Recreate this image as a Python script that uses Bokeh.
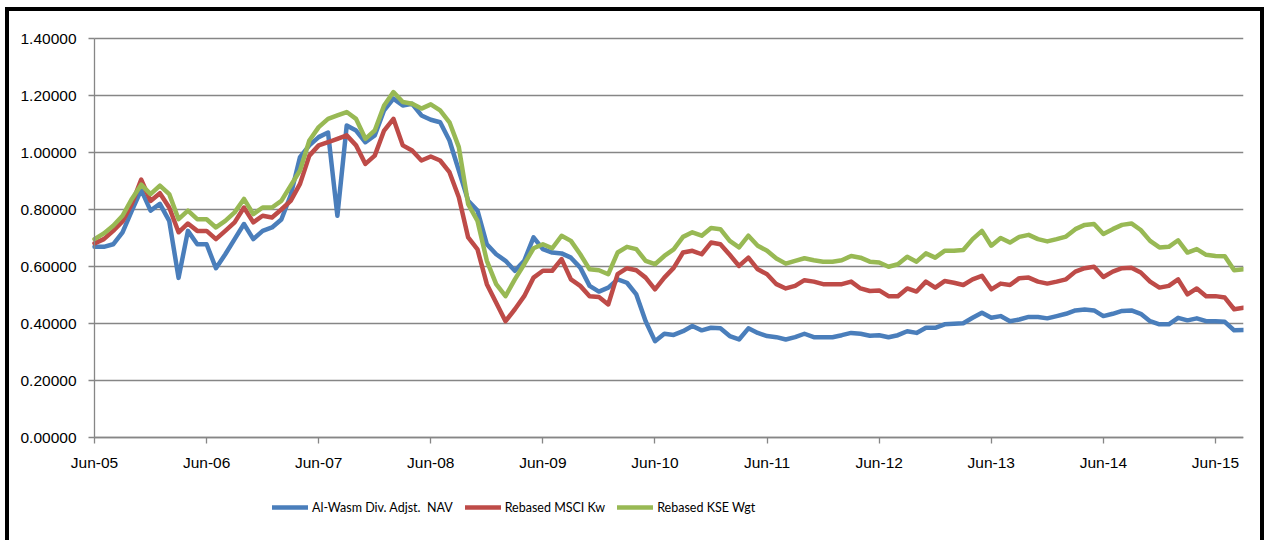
from bokeh.plotting import figure
from bokeh.models import ColumnDataSource, Legend, LegendItem, FixedTicker, NumeralTickFormatter, Range1d
from bokeh.embed import file_html
from bokeh.resources import INLINE

# Monthly observations, Jun-05 .. Sep-15
start_year, start_month = 2005, 6
n_points = 124
mon_names = ["Jan", "Feb", "Mar", "Apr", "May", "Jun", "Jul", "Aug", "Sep", "Oct", "Nov", "Dec"]
month_labels = []
for k in range(n_points):
    m = (start_month - 1 + k) % 12
    y = start_year + (start_month - 1 + k) // 12
    month_labels.append(f"{mon_names[m]}-{y % 100:02d}")

alwasm_nav = [0.669, 0.669, 0.678, 0.720, 0.796, 0.869, 0.796, 0.820, 0.760, 0.560,
              0.725, 0.678, 0.678, 0.594, 0.643, 0.696, 0.749, 0.696, 0.725, 0.737,
              0.765, 0.850, 0.984, 1.025, 1.054, 1.070, 0.778, 1.095, 1.077, 1.036,
              1.060, 1.148, 1.189, 1.165, 1.171, 1.130, 1.115, 1.106, 1.042, 0.937,
              0.831, 0.796, 0.678, 0.643, 0.620, 0.585, 0.620, 0.702, 0.661, 0.649,
              0.646, 0.631, 0.596, 0.532, 0.512, 0.526, 0.555, 0.543, 0.502, 0.408,
              0.338, 0.364, 0.360, 0.373, 0.391, 0.376, 0.385, 0.383, 0.356, 0.344,
              0.383, 0.367, 0.356, 0.352, 0.344, 0.352, 0.364, 0.352, 0.352, 0.352,
              0.359, 0.367, 0.364, 0.357, 0.359, 0.352, 0.359, 0.373, 0.367, 0.385,
              0.385, 0.397, 0.399, 0.401, 0.420, 0.438, 0.420, 0.426, 0.408, 0.414,
              0.423, 0.423, 0.418, 0.426, 0.434, 0.446, 0.449, 0.446, 0.426, 0.434,
              0.444, 0.446, 0.434, 0.408, 0.397, 0.397, 0.420, 0.411, 0.418, 0.408,
              0.408, 0.406, 0.376, 0.377]

msci_kw = [0.681, 0.696, 0.725, 0.758, 0.820, 0.905, 0.830, 0.857, 0.807, 0.720,
           0.751, 0.725, 0.725, 0.696, 0.725, 0.755, 0.807, 0.755, 0.778, 0.772,
           0.800, 0.830, 0.890, 0.989, 1.025, 1.036, 1.048, 1.060, 1.025, 0.960,
           0.989, 1.077, 1.118, 1.025, 1.007, 0.972, 0.986, 0.972, 0.931, 0.843,
           0.702, 0.660, 0.538, 0.473, 0.408, 0.450, 0.496, 0.561, 0.585, 0.585,
           0.626, 0.555, 0.532, 0.496, 0.493, 0.467, 0.573, 0.594, 0.587, 0.561,
           0.520, 0.561, 0.595, 0.649, 0.655, 0.643, 0.684, 0.678, 0.641, 0.602,
           0.631, 0.590, 0.573, 0.538, 0.523, 0.532, 0.552, 0.547, 0.538, 0.538,
           0.538, 0.547, 0.523, 0.514, 0.516, 0.496, 0.496, 0.523, 0.512, 0.547,
           0.526, 0.549, 0.543, 0.535, 0.555, 0.567, 0.520, 0.540, 0.535, 0.559,
           0.561, 0.547, 0.540, 0.547, 0.555, 0.582, 0.594, 0.599, 0.563, 0.582,
           0.594, 0.596, 0.579, 0.547, 0.526, 0.532, 0.555, 0.502, 0.523, 0.496,
           0.496, 0.491, 0.450, 0.455]

kse_wgt = [0.696, 0.716, 0.743, 0.778, 0.837, 0.887, 0.854, 0.884, 0.854, 0.766,
           0.796, 0.766, 0.766, 0.737, 0.760, 0.790, 0.837, 0.784, 0.807, 0.807,
           0.830, 0.884, 0.937, 1.042, 1.089, 1.118, 1.130, 1.142, 1.118, 1.048,
           1.077, 1.165, 1.212, 1.177, 1.171, 1.154, 1.169, 1.148, 1.106, 1.019,
           0.819, 0.760, 0.620, 0.538, 0.496, 0.555, 0.608, 0.664, 0.678, 0.664,
           0.708, 0.690, 0.643, 0.590, 0.587, 0.573, 0.649, 0.669, 0.661, 0.620,
           0.608, 0.637, 0.660, 0.704, 0.720, 0.708, 0.735, 0.731, 0.690, 0.667,
           0.708, 0.673, 0.655, 0.628, 0.610, 0.620, 0.629, 0.622, 0.617, 0.617,
           0.622, 0.637, 0.631, 0.617, 0.614, 0.599, 0.608, 0.634, 0.617, 0.646,
           0.631, 0.655, 0.655, 0.658, 0.696, 0.725, 0.673, 0.700, 0.684, 0.704,
           0.711, 0.696, 0.688, 0.696, 0.705, 0.731, 0.746, 0.749, 0.714, 0.731,
           0.746, 0.751, 0.728, 0.690, 0.667, 0.669, 0.692, 0.649, 0.661, 0.641,
           0.637, 0.636, 0.587, 0.590]

series_names = ["Al-Wasm Div. Adjst.  NAV", "Rebased MSCI Kw", "Rebased KSE Wgt"]
series_colors = ["#4A7EBB", "#BE4B48", "#98B954"]
y_ticks = [0.0, 0.2, 0.4, 0.6, 0.8, 1.0, 1.2, 1.4]
y_top = 1.4

# layout (canvas pixels)
W, H = 1251, 529
plot_left_px, plot_right_px = 85, 1234      # x=0 and x=last month
top_px, zero_px = 27, 426                   # y=1.4 and y=0
px_per_unit = (zero_px - top_px) / y_top
y_bottom = -(H - zero_px) / px_per_unit
y_range_top = y_top + top_px / px_per_unit
px_per_month = (plot_right_px - plot_left_px) / (n_points - 1)
x_start = -plot_left_px / px_per_month

x_idx = list(range(n_points))
source = ColumnDataSource(dict(x=x_idx, label=month_labels, nav=alwasm_nav, msci=msci_kw, kse=kse_wgt))

p = figure(width=W, height=H, output_backend="svg", toolbar_location=None,
           x_range=Range1d(x_start, n_points - 1), y_range=Range1d(y_bottom, y_range_top),
           min_border_left=0, min_border_right=W - plot_right_px, min_border_top=0,
           min_border_bottom=0)
p.styles = {"margin-left": "9px", "margin-top": "11px",
            "box-shadow": "-4px 0 0 0 #000, 4px 0 0 0 #000, 0 -4px 0 0 #000, "
                          "-4px -4px 0 0 #000, 4px -4px 0 0 #000"}
p.outline_line_color = None
p.background_fill_color = "white"
p.border_fill_color = "white"

# horizontal gridlines across the plot area only
grid_src = ColumnDataSource(dict(y=y_ticks, x0=[0] * len(y_ticks), x1=[n_points - 1] * len(y_ticks)))
p.segment(x0="x0", x1="x1", y0="y", y1="y", source=grid_src, line_color="#868686", line_width=1.3)

renderers = []
for col, color in zip(["nav", "msci", "kse"], series_colors):
    r = p.line("x", col, source=source, line_color=color, line_width=4.5,
               line_join="round", line_cap="round")
    renderers.append(r)

tick_pos = [i for i in x_idx if month_labels[i].startswith("Jun")]
p.xaxis.ticker = FixedTicker(ticks=tick_pos)
p.xaxis.major_label_overrides = {i: month_labels[i] for i in tick_pos}
p.xaxis.fixed_location = 0
p.xaxis.bounds = (0, n_points - 1)
p.yaxis.ticker = FixedTicker(ticks=y_ticks)
p.yaxis.formatter = NumeralTickFormatter(format="0.00000")
p.yaxis.fixed_location = 0
p.yaxis.bounds = (0, y_top)

for ax in (p.xaxis[0], p.yaxis[0]):
    ax.axis_line_color = "#868686"
    ax.axis_line_width = 1.3
    ax.major_tick_line_color = "#868686"
    ax.major_tick_line_width = 1.3
    ax.major_tick_in = 0
    ax.major_tick_out = 6
    ax.minor_tick_line_color = None
    ax.major_label_text_font = "Liberation Sans"
    ax.major_label_text_font_size = "15.5px"
    ax.major_label_text_color = "#000000"
p.yaxis.major_label_standoff = 12
p.xaxis.major_label_standoff = 10

p.xgrid.grid_line_color = None
p.ygrid.grid_line_color = None

legend = Legend(items=[LegendItem(label=n, renderers=[r]) for n, r in zip(series_names, renderers)],
                orientation="horizontal", location=(plot_left_px + 178, 23),
                label_text_font="Lato", label_text_font_size="12.5px",
                label_text_color="#000000", glyph_width=36, label_standoff=4, spacing=12,
                padding=0, margin=0, border_line_color=None, background_fill_alpha=0)
p.add_layout(legend, "center")

open("out.html", "w").write(file_html(p, INLINE))
